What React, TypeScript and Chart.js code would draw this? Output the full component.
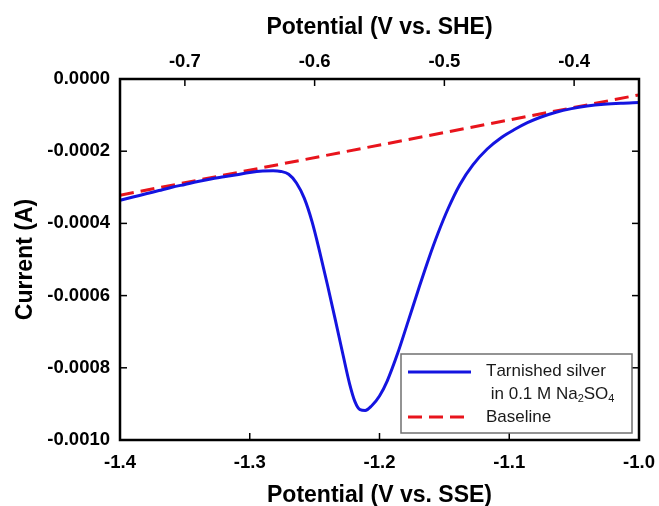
import React, { useEffect, useRef } from "react";
import { Chart, registerables } from "chart.js";

Chart.register(...registerables);

// ---- data ----
const sseX = [
  -1.4, -1.39, -1.38, -1.37, -1.36, -1.35, -1.34, -1.33, -1.32, -1.31, -1.3, -1.29,
  -1.282, -1.276, -1.27, -1.264, -1.258, -1.252, -1.246, -1.24, -1.234, -1.228,
  -1.223, -1.219, -1.215, -1.211, -1.206, -1.2, -1.194, -1.186, -1.178, -1.17,
  -1.162, -1.155, -1.147, -1.138, -1.128, -1.117, -1.106, -1.096, -1.086, -1.076,
  -1.064, -1.052, -1.04, -1.027, -1.014, -1.0,
];
const currentA = [
  -0.000336, -0.000327, -0.000318, -0.000309, -0.0003, -0.000292, -0.000284, -0.000277,
  -0.000271, -0.000265, -0.000259, -0.000255, -0.000254, -0.000256, -0.000264, -0.000288,
  -0.00033, -0.000395, -0.00048, -0.000572, -0.000668, -0.000766, -0.000845, -0.000893,
  -0.000916, -0.000918, -0.000905, -0.000878, -0.000836, -0.00076, -0.000672, -0.000583,
  -0.000497, -0.000428, -0.000358, -0.000292, -0.000238, -0.000194, -0.000162, -0.00014,
  -0.000121, -0.000106, -0.000092, -0.000082, -0.000075, -0.00007, -0.000067, -0.000065,
];
const baselineX = [-1.4, -1.0];
const baselineA = [-0.000322, -0.000044];

const bottomTicks = [-1.4, -1.3, -1.2, -1.1, -1.0];
const topTicks = [-0.7, -0.6, -0.5, -0.4];
const yTicks = [0, -0.0002, -0.0004, -0.0006, -0.0008, -0.001];
const SHE_OFFSET = 0.65;

const seriesLabel = "Tarnished silver\n in 0.1 M Na\u2082SO\u2084";
const baselineLabel = "Baseline";

const FAMILY = '"Liberation Sans", Arial, Helvetica, sans-serif';
const tickFont = { family: FAMILY, size: 18.5, weight: "bold" as const };
const titleFont = { family: FAMILY, size: 23, weight: "bold" as const };

const BLUE = "#1414e0";
const RED = "#e8141c";

const SUBS = "\u2080\u2081\u2082\u2083\u2084\u2085\u2086\u2087\u2088\u2089";

function drawRich(ctx: CanvasRenderingContext2D, text: string, x: number, y: number, size: number) {
  let cx = x;
  for (const ch of text) {
    const si = SUBS.indexOf(ch);
    if (si >= 0) {
      ctx.font = `${Math.round(size * 0.65)}px ${FAMILY}`;
      ctx.fillText(String(si), cx, y + size * 0.3);
      cx += ctx.measureText(String(si)).width;
    } else {
      ctx.font = `${size}px ${FAMILY}`;
      ctx.fillText(ch, cx, y);
      cx += ctx.measureText(ch).width;
    }
  }
}

const framePlugin = {
  id: "frameTicksLegend",
  afterDraw(chart: any) {
    const { ctx, chartArea: a, scales } = chart;
    ctx.save();
    ctx.strokeStyle = "#000";
    ctx.lineWidth = 1.5;
    const L = 7;
    const seg = (x1: number, y1: number, x2: number, y2: number) => {
      ctx.beginPath();
      ctx.moveTo(x1, y1);
      ctx.lineTo(x2, y2);
      ctx.stroke();
    };
    scales.x.ticks.forEach((t: any) => {
      const p = scales.x.getPixelForValue(t.value);
      seg(p, a.bottom, p, a.bottom - L);
    });
    scales.x2.ticks.forEach((t: any) => {
      const p = scales.x2.getPixelForValue(t.value);
      seg(p, a.top, p, a.top + L);
    });
    scales.y.ticks.forEach((t: any) => {
      const p = scales.y.getPixelForValue(t.value);
      seg(a.left, p, a.left + L, p);
      seg(a.right, p, a.right - L, p);
    });
    ctx.lineWidth = 2.5;
    ctx.strokeRect(a.left, a.top, a.right - a.left, a.bottom - a.top);

    // legend
    const w = 231, h = 79;
    const bx = a.right - 7 - w;
    const by = a.bottom - 7 - h;
    ctx.fillStyle = "#fff";
    ctx.fillRect(bx, by, w, h);
    ctx.strokeStyle = "#707070";
    ctx.lineWidth = 1.5;
    ctx.strokeRect(bx, by, w, h);
    const ds = chart.data.datasets;
    ctx.textBaseline = "middle";
    ctx.textAlign = "left";
    ctx.fillStyle = "#1a1a1a";
    const fs = 17;
    ctx.strokeStyle = ds[0].borderColor;
    ctx.lineWidth = 3;
    ctx.setLineDash([]);
    seg(bx + 7, by + 18, bx + 70, by + 18);
    const lines = String(ds[0].label).split("\n");
    drawRich(ctx, lines[0], bx + 85, by + 17, fs);
    drawRich(ctx, lines[1], bx + 85, by + 40, fs);
    ctx.strokeStyle = ds[1].borderColor;
    ctx.setLineDash([14, 7]);
    seg(bx + 7, by + 63, bx + 70, by + 63);
    ctx.setLineDash([]);
    drawRich(ctx, String(ds[1].label), bx + 85, by + 63, fs);
    ctx.restore();
  },
};

export default function App() {
  const ref = useRef<HTMLCanvasElement>(null);
  useEffect(() => {
    if (!ref.current) return;
    const chart = new Chart(ref.current, {
      type: "scatter",
      data: {
        datasets: [
          {
            label: seriesLabel,
            data: sseX.map((x, i) => ({ x, y: currentA[i] })),
            showLine: true,
            borderColor: BLUE,
            borderWidth: 3,
            pointRadius: 0,
            cubicInterpolationMode: "monotone",
            xAxisID: "x",
            yAxisID: "y",
          },
          {
            label: baselineLabel,
            data: baselineX.map((x, i) => ({ x, y: baselineA[i] })),
            showLine: true,
            borderColor: RED,
            borderWidth: 3,
            borderDash: [14, 7],
            pointRadius: 0,
            xAxisID: "x",
            yAxisID: "y",
          },
        ],
      },
      options: {
        responsive: false,
        animation: false,
        devicePixelRatio: 1,
        layout: { padding: { left: 0, top: 0, right: 20, bottom: 0 } },
        plugins: { legend: { display: false }, tooltip: { enabled: false } },
        scales: {
          x: {
            type: "linear",
            position: "bottom",
            min: -1.4,
            max: -1.0,
            afterBuildTicks: (s: any) => {
              s.ticks = bottomTicks.map((v) => ({ value: v }));
            },
            afterFit: (s: any) => {
              s.height = 66;
              s.paddingLeft = 0;
              s.paddingRight = 0;
            },
            grid: { display: false, drawTicks: false },
            border: { display: false },
            ticks: {
              color: "#000",
              font: tickFont,
              padding: 12,
              maxRotation: 0,
              autoSkip: false,
              callback: (v: any) => Number(v).toFixed(1),
            },
            title: {
              display: true,
              text: "Potential (V vs. SSE)",
              color: "#000",
              font: titleFont,
              padding: { top: 0, bottom: -3 },
            },
          },
          x2: {
            type: "linear",
            position: "top",
            min: -1.4 + SHE_OFFSET,
            max: -1.0 + SHE_OFFSET,
            afterBuildTicks: (s: any) => {
              s.ticks = topTicks.map((v) => ({ value: v }));
            },
            afterFit: (s: any) => {
              s.height = 79;
              s.paddingLeft = 0;
              s.paddingRight = 0;
            },
            grid: { display: false, drawTicks: false },
            border: { display: false },
            ticks: {
              color: "#000",
              font: tickFont,
              padding: 6,
              maxRotation: 0,
              autoSkip: false,
              callback: (v: any) => Number(v).toFixed(1),
            },
            title: {
              display: true,
              text: "Potential (V vs. SHE)",
              color: "#000",
              font: titleFont,
              padding: { top: 14, bottom: 0 },
            },
          },
          y: {
            type: "linear",
            position: "left",
            min: -0.001,
            max: 0,
            afterBuildTicks: (s: any) => {
              s.ticks = yTicks.map((v) => ({ value: v }));
            },
            afterFit: (s: any) => {
              s.width = 120;
              s.paddingTop = 0;
              s.paddingBottom = 0;
            },
            grid: { display: false, drawTicks: false },
            border: { display: false },
            ticks: {
              color: "#000",
              font: tickFont,
              padding: 10,
              autoSkip: false,
              callback: (v: any) => Number(v).toFixed(4),
            },
            title: {
              display: true,
              text: "Current (A)",
              color: "#000",
              font: titleFont,
              padding: { top: 12, bottom: 0 },
            },
          },
        },
      } as any,
      plugins: [framePlugin],
    });
    return () => chart.destroy();
  }, []);
  return (
    <div style={{ position: "fixed", left: 0, top: 0, width: 659, height: 506, background: "#fff" }}>
      <canvas ref={ref} width={659} height={506} style={{ display: "block" }} />
    </div>
  );
}
